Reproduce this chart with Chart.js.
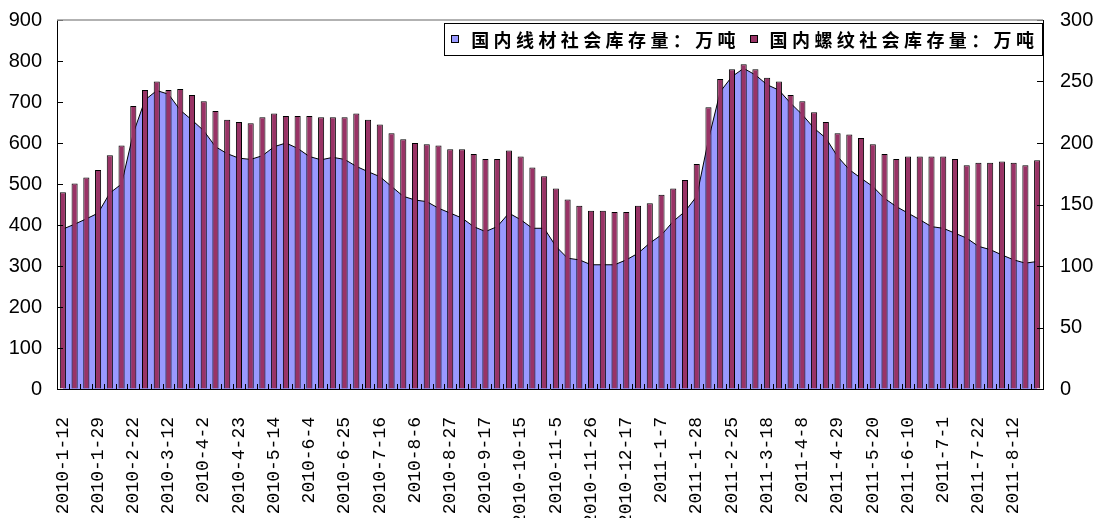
<!DOCTYPE html>
<html>
<head>
<meta charset="utf-8">
<script src="https://cdn.jsdelivr.net/npm/chart.js@4.4.0/dist/chart.umd.min.js"></script>
<style>
  html, body { margin: 0; padding: 0; background: #fff; }
  #box { width: 1099px; height: 518px; }
</style>
</head>
<body>
<div id="box"><canvas id="chart1"></canvas></div>
<script>
// every 3rd week carries a label
const tickLabels = [
  "2010-1-12", "2010-1-29", "2010-2-22", "2010-3-12", "2010-4-2", "2010-4-23",
  "2010-5-14", "2010-6-4", "2010-6-25", "2010-7-16", "2010-8-6", "2010-8-27",
  "2010-9-17", "2010-10-15", "2010-11-5", "2010-11-26", "2010-12-17", "2011-1-7",
  "2011-1-28", "2011-2-25", "2011-3-18", "2011-4-8", "2011-4-29", "2011-5-20",
  "2011-6-10", "2011-7-1", "2011-7-22", "2011-8-12"
];

const seriesNames = ["国内线材社会库存量：万吨", "国内螺纹社会库存量：万吨"];

// 线材 (left axis)
const wireStock = [
  390, 402, 415, 429, 478, 500, 624, 705, 728, 719,
  680, 656, 630, 591, 574, 563, 560, 569, 591, 600,
  587, 567, 559, 565, 560, 543, 530, 518, 494, 470,
  461, 457, 441, 429, 417, 396, 384, 396, 429, 413,
  392, 392, 348, 319, 315, 303, 303, 303, 315, 331,
  356, 376, 409, 433, 470, 608, 725, 762, 782, 766,
  742, 729, 697, 669, 636, 612, 567, 535, 514, 494,
  465, 445, 429, 413, 396, 392, 380, 368, 348, 340,
  327, 315, 307, 311
];

// 螺纹 (right axis)
const rebarStock = [
  160, 167, 172, 178, 190, 198, 230, 243, 250, 243,
  244, 239, 234, 226, 219, 217, 216, 221, 224, 222,
  222, 222, 221, 221, 221, 224, 219, 215, 208, 203,
  200, 199, 198, 195, 195, 191, 187, 187, 194, 189,
  180, 173, 163, 154, 149, 145, 145, 144, 144, 149,
  151, 158, 163, 170, 183, 229, 252, 260, 264, 260,
  253, 250, 239, 234, 225, 217, 208, 207, 204, 199,
  191, 187, 189, 189, 189, 189, 187, 182, 184, 184,
  185, 184, 182, 186
];

const categories = rebarStock.map((v, i) => i % 3 === 0 ? tickLabels[i / 3] : "");

const wireColor = "#9999ff";
const rebarColor = "#993366";

// inner tick marks, top border and the boxed legend
const chartDecor = {
  id: 'chartDecor',
  afterDatasetsDraw(chart) {
    const ctx = chart.ctx;
    const a = chart.chartArea;
    const sy = chart.scales.y, sy1 = chart.scales.y1;
    ctx.save();
    ctx.strokeStyle = '#000';
    ctx.lineWidth = 1;
    ctx.beginPath();
    sy.ticks.forEach(t => {
      const y = Math.round(sy.getPixelForValue(t.value)) + 0.5;
      ctx.moveTo(a.left, y); ctx.lineTo(a.left + 6, y);
    });
    sy1.ticks.forEach(t => {
      const y = Math.round(sy1.getPixelForValue(t.value)) + 0.5;
      ctx.moveTo(a.right, y); ctx.lineTo(a.right - 6, y);
    });
    const w = (a.right - a.left) / categories.length;
    for (let i = 1; i < categories.length; i++) {
      const x = Math.round(a.left + i * w) + 0.5;
      ctx.moveTo(x, a.bottom); ctx.lineTo(x, a.bottom - 5);
    }
    ctx.stroke();

    ctx.strokeStyle = '#999';
    ctx.lineWidth = 1.5;
    ctx.beginPath();
    ctx.moveTo(a.left, a.top); ctx.lineTo(a.right, a.top);
    ctx.stroke();

    // legend
    ctx.font = 'bold 18px "Noto Sans CJK SC"';
    ctx.textBaseline = 'middle';
    const spacing = 4.4;
    const textWidth = s => [...s].reduce((acc, ch) => acc + ctx.measureText(ch).width + spacing, -spacing);
    const colors = [wireColor, rebarColor];
    const right = a.right - 1;
    const top = a.top + 3, h = 32;
    let total = 7 + 8;
    seriesNames.forEach((s, i) => { total += 8 + 12 + textWidth(s) + (i === 0 ? 14 : 0); });
    const left = right - total;
    ctx.fillStyle = '#fff';
    ctx.fillRect(left, top, total, h);
    ctx.strokeStyle = '#000';
    ctx.lineWidth = 1;
    ctx.strokeRect(Math.round(left) + 0.5, top + 0.5, Math.round(total), h);
    let x = left + 7;
    const cy = top + h / 2;
    seriesNames.forEach((s, i) => {
      ctx.fillStyle = colors[i];
      ctx.fillRect(Math.round(x), Math.round(cy - 4), 8, 8);
      ctx.strokeRect(Math.round(x) + 0.5, Math.round(cy - 4) + 0.5, 7, 7);
      x += 8 + 12;
      ctx.fillStyle = '#000';
      [...s].forEach(ch => {
        ctx.fillText(ch, x, cy + 1);
        x += ctx.measureText(ch).width + spacing;
      });
      x += 14 - spacing;
    });
    ctx.restore();
  }
};

function createChart(chartId) {
  const ctx = document.getElementById(chartId);
  Chart.defaults.font.family = "Liberation Sans";
  Chart.defaults.color = "#000";
  const hiddenTicks = len => ({
    display: true, drawOnChartArea: false, drawTicks: true,
    tickLength: len, tickColor: 'rgba(0,0,0,0)'
  });
  return new Chart(ctx, {
    type: 'bar',
    data: {
      labels: categories,
      datasets: [
        {
          type: 'bar',
          label: seriesNames[1],
          data: rebarStock,
          yAxisID: 'y1',
          backgroundColor: rebarColor,
          borderColor: '#000',
          borderWidth: 1,
          barPercentage: 0.52,
          categoryPercentage: 1,
          order: 1
        },
        {
          type: 'line',
          label: seriesNames[0],
          data: wireStock,
          yAxisID: 'y',
          fill: 'origin',
          backgroundColor: wireColor,
          borderColor: '#000',
          borderWidth: 1,
          pointRadius: 0,
          tension: 0,
          order: 2
        }
      ]
    },
    options: {
      responsive: true,
      maintainAspectRatio: false,
      animation: false,
      layout: { padding: { top: 20 } },
      plugins: {
        legend: { display: false },
        tooltip: { enabled: false }
      },
      scales: {
        x: {
          offset: true,
          grid: { display: false },
          border: { display: true, color: '#000', width: 1 },
          ticks: {
            autoSkip: false,
            maxRotation: 90,
            minRotation: 90,
            padding: 20,
            font: { family: "Liberation Mono", size: 18 }
          },
          afterFit: s => { s.height = 129; }
        },
        y: {
          position: 'left',
          min: 0, max: 900,
          grid: hiddenTicks(13),
          border: { display: true, color: '#000', width: 1 },
          ticks: { stepSize: 100, padding: 2, font: { size: 20 } },
          afterFit: s => { s.width = 57; }
        },
        y1: {
          position: 'right',
          min: 0, max: 300,
          grid: hiddenTicks(15),
          border: { display: true, color: '#000', width: 1 },
          ticks: { stepSize: 50, padding: 2, font: { size: 20 } },
          afterFit: s => { s.width = 56; }
        }
      }
    },
    plugins: [chartDecor]
  });
}

createChart('chart1');
</script>
</body>
</html>
